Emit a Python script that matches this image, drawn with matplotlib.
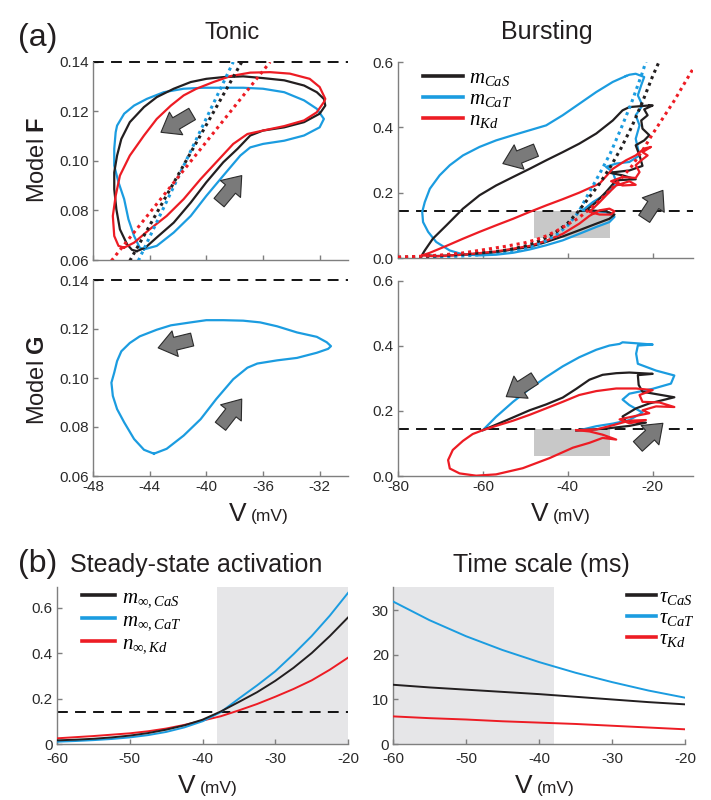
import numpy as np
import matplotlib
matplotlib.use("Agg")
import matplotlib.pyplot as plt
from matplotlib.patches import FancyArrowPatch, Rectangle
from matplotlib.lines import Line2D

# ---------------- data ----------------
# Tonic, model F (phase loops)
tF_V_CaS = [-44.9, -44.3, -43.5, -42.3, -41.1, -40.0, -38.8, -37.8, -36.9, -36.0, -34.5, -33.1, -32.0, -31.6,
            -31.7, -32.2, -33.1, -34.5, -36.0, -37.4, -38.8, -40.0, -41.1, -42.3, -43.5, -44.4, -45.4, -46.0,
            -46.3, -46.5, -46.5, -46.35, -46.1, -45.6, -45.25, -44.9]
tF_y_CaS = [0.0636, 0.0650, 0.0691, 0.0751, 0.0832, 0.0914, 0.0995, 0.1049, 0.1103, 0.1123, 0.1136, 0.1157,
            0.1191, 0.1224, 0.1251, 0.1278, 0.1305, 0.1326, 0.1335, 0.1342, 0.1339, 0.1332, 0.1319, 0.1292,
            0.1258, 0.1218, 0.1157, 0.1089, 0.1022, 0.0954, 0.0886, 0.0805, 0.0724, 0.0664, 0.0641, 0.0636]
tF_V_CaT = [-44.4, -43.5, -42.3, -41.1, -40.0, -38.8, -37.6, -36.9, -36.0, -34.5, -33.1, -32.0, -31.7, -32.2,
            -33.1, -34.5, -36.0, -37.4, -38.8, -40.2, -41.6, -43.0, -44.2, -45.1, -45.8, -46.3, -46.4, -46.5,
            -46.5, -46.2, -45.8, -45.5, -45.1, -44.7, -44.4]
tF_y_CaT = [0.0643, 0.0657, 0.0711, 0.0778, 0.0859, 0.0941, 0.1022, 0.1055, 0.1069, 0.1082, 0.1103, 0.1136,
            0.1170, 0.1211, 0.1245, 0.1278, 0.1292, 0.1296, 0.1296, 0.1296, 0.1292, 0.1278, 0.1251, 0.1224,
            0.1191, 0.1143, 0.1116, 0.1049, 0.0981, 0.0914, 0.0846, 0.0765, 0.0697, 0.0650, 0.0643]
tF_V_Kd = [-45.8, -45.1, -44.0, -42.8, -41.6, -40.4, -39.3, -38.1, -37.1, -36.0, -34.5, -33.1, -32.2, -31.7,
           -31.6, -32.0, -32.7, -34.1, -35.5, -36.9, -38.3, -39.5, -40.7, -41.6, -42.5, -43.5, -44.4, -45.4,
           -46.1, -46.4, -46.6, -46.5, -46.2, -45.8]
tF_y_Kd = [0.0650, 0.0670, 0.0724, 0.0778, 0.0846, 0.0927, 0.0995, 0.1069, 0.1109, 0.1123, 0.1141, 0.1164,
           0.1197, 0.1238, 0.1251, 0.1299, 0.1332, 0.1353, 0.1359, 0.1357, 0.1343, 0.1319, 0.1292, 0.1265,
           0.1224, 0.1170, 0.1103, 0.1022, 0.0941, 0.0859, 0.0778, 0.0697, 0.0657, 0.0650]
# Tonic F dotted (steady-state lines, nearly straight in this range)
tF_dot_y = [0.0597, 0.140]
tF_dot_V_CaS = [-45.4, -37.5]
tF_dot_V_CaT = [-44.8, -38.1]
tF_dot_V_Kd = [-46.7, -35.5]

# Tonic, model G
tG_V_CaT = [-43.7, -42.8, -41.6, -40.4, -39.3, -38.1, -37.1, -36.4, -35.0, -33.6, -32.2, -31.4, -31.2, -31.5,
            -32.2, -33.6, -35.0, -36.2, -37.4, -38.8, -40.0, -41.1, -42.5, -43.5, -44.7, -45.4, -46.0, -46.3,
            -46.5, -46.7, -46.6, -46.3, -45.8, -45.1, -44.4, -43.7]
tG_y_CaT = [0.0691, 0.0711, 0.0765, 0.0832, 0.0914, 0.0995, 0.1042, 0.1059, 0.1072, 0.1082, 0.1103, 0.1119,
            0.1130, 0.1146, 0.1168, 0.1186, 0.1211, 0.1227, 0.1234, 0.1236, 0.1236, 0.1227, 0.1215, 0.1197,
            0.1170, 0.1143, 0.1109, 0.1069, 0.1022, 0.0981, 0.0927, 0.0873, 0.0819, 0.0751, 0.0707, 0.0691]

# Bursting, model F
bF_V_CaT = [-26.3, -29.4, -33.3, -37.3, -41.2, -45.1, -49.0, -52.9, -56.9, -60.8, -64.7, -67.8, -70.2, -72.5,
            -73.7, -74.3, -74.1, -72.9, -71.0, -67.8, -64.7, -60.8, -56.9, -52.9, -49.0, -45.1, -41.2, -37.3,
            -33.3, -30.2, -29.0, -31.0, -36.5, -34.1, -30.2, -28.6, -29.4, -31.0, -28.6, -25.5, -23.1, -24.0,
            -23.1, -24.0, -22.4, -23.5, -22.7, -22.0, -24.0, -25.5, -26.3]
bF_y_CaT = [0.557, 0.539, 0.508, 0.472, 0.437, 0.406, 0.391, 0.376, 0.360, 0.340, 0.314, 0.284, 0.253, 0.212,
            0.171, 0.141, 0.110, 0.080, 0.049, 0.023, 0.011, 0.008, 0.010, 0.016, 0.026, 0.039, 0.054, 0.074,
            0.095, 0.110, 0.126, 0.141, 0.146, 0.171, 0.202, 0.233, 0.263, 0.279, 0.289, 0.294, 0.314, 0.365,
            0.406, 0.437, 0.467, 0.498, 0.529, 0.554, 0.564, 0.561, 0.557]
bF_V_CaS = [-20.8, -25.5, -27.1, -29.4, -33.3, -37.3, -41.2, -45.1, -49.0, -52.9, -56.9, -60.8, -64.7, -68.6,
            -71.8, -73.7, -74.3, -71.0, -64.7, -56.9, -49.0, -45.1, -41.2, -37.3, -33.3, -30.2, -29.0, -31.0,
            -35.7, -33.3, -31.0, -28.6, -24.0, -27.1, -30.2, -25.5, -22.4, -23.1, -24.0, -22.0, -20.8, -22.4,
            -22.7, -21.2, -22.0, -20.0, -20.8]
bF_y_CaS = [0.467, 0.462, 0.452, 0.421, 0.381, 0.350, 0.324, 0.299, 0.273, 0.248, 0.222, 0.192, 0.151, 0.100,
            0.059, 0.023, 0.010, 0.006, 0.010, 0.018, 0.034, 0.049, 0.066, 0.085, 0.105, 0.120, 0.133, 0.143,
            0.146, 0.171, 0.202, 0.238, 0.241, 0.253, 0.261, 0.268, 0.282, 0.314, 0.345, 0.360, 0.376, 0.396,
            0.421, 0.437, 0.455, 0.467, 0.467]
bF_V_Kd = [-74.3, -71.0, -64.7, -56.9, -49.0, -45.1, -41.2, -37.3, -34.9, -32.5, -30.2, -29.0, -29.8, -32.5,
           -34.9, -32.5, -30.2, -28.6, -25.5, -24.0, -27.1, -29.8, -27.1, -24.0, -23.1, -24.0, -22.7, -21.2,
           -22.4, -20.4, -22.0, -24.0, -26.3, -29.4, -32.5, -37.3, -41.2, -45.1, -49.0, -52.9, -56.9, -60.8,
           -64.7, -68.6, -72.5, -74.3]
bF_y_Kd = [0.008, 0.005, 0.010, 0.020, 0.037, 0.053, 0.074, 0.105, 0.129, 0.146, 0.151, 0.143, 0.133, 0.133,
           0.141, 0.171, 0.202, 0.222, 0.235, 0.224, 0.222, 0.235, 0.248, 0.245, 0.263, 0.284, 0.299, 0.314,
           0.324, 0.340, 0.335, 0.314, 0.299, 0.273, 0.228, 0.200, 0.180, 0.161, 0.141, 0.120, 0.100, 0.080,
           0.059, 0.037, 0.016, 0.008]

# Bursting, model G
bG_V_CaT = [-60.0, -56.9, -52.9, -49.0, -45.1, -41.2, -37.3, -33.3, -30.2, -27.8, -27.1, -23.9, -20.0, -23.5,
            -23.9, -23.5, -19.2, -14.9, -15.7, -20.0, -25.5, -27.1, -25.5, -22.4, -25.5, -29.4, -33.3, -36.5,
            -38.0]
bG_y_CaT = [0.141, 0.182, 0.228, 0.268, 0.304, 0.337, 0.365, 0.388, 0.401, 0.406, 0.411, 0.408, 0.404, 0.401,
            0.376, 0.345, 0.324, 0.309, 0.284, 0.268, 0.253, 0.235, 0.218, 0.195, 0.172, 0.161, 0.153, 0.143,
            0.140]
bG_V_CaS = [-60.0, -54.5, -49.0, -45.1, -41.2, -38.0, -34.9, -31.8, -28.6, -25.5, -20.0, -23.5, -23.3, -22.4,
            -14.9, -20.8, -23.9, -27.1, -26.3, -21.6, -25.5, -30.2, -34.1, -38.0]
bG_y_CaS = [0.141, 0.171, 0.202, 0.220, 0.241, 0.268, 0.296, 0.311, 0.316, 0.318, 0.314, 0.310, 0.280, 0.259,
            0.242, 0.223, 0.208, 0.183, 0.167, 0.164, 0.154, 0.147, 0.143, 0.140]
bG_V_Kd = [-38.0, -33.3, -29.4, -25.5, -21.6, -25.5, -27.8, -23.9, -20.8, -22.4, -19.2, -14.9, -18.4, -22.4,
           -23.1, -20.0, -23.9, -28.6, -33.3, -37.3, -41.2, -45.1, -49.0, -52.9, -56.9, -60.0, -62.4, -64.7,
           -67.1, -68.2, -67.8, -65.5, -61.6, -56.9, -50.6, -44.3, -38.8, -34.9, -31.8, -28.6, -31.8, -34.9,
           -38.0]
bG_y_Kd = [0.141, 0.143, 0.156, 0.170, 0.172, 0.162, 0.174, 0.185, 0.193, 0.202, 0.214, 0.212, 0.226, 0.228,
           0.249, 0.264, 0.269, 0.269, 0.261, 0.249, 0.228, 0.208, 0.188, 0.170, 0.154, 0.141, 0.129, 0.108,
           0.080, 0.049, 0.023, 0.008, 0.001, 0.005, 0.024, 0.055, 0.087, 0.102, 0.117, 0.112, 0.127, 0.137,
           0.141]

# Steady-state activation curves (panel b, and dotted in bursting F)
V_ss = [-80, -75, -70, -65, -60, -57.5, -55, -52.5, -50, -47.5, -45, -42.5, -40, -37.5, -35, -32.5, -30,
        -27.5, -25, -22.5, -20, -17.5, -15, -12.5, -10]
minf_CaS = [0.002, 0.004, 0.007, 0.011, 0.016, 0.019, 0.023, 0.029, 0.037, 0.048, 0.063, 0.082, 0.107, 0.143,
            0.185, 0.228, 0.278, 0.335, 0.400, 0.475, 0.557, 0.630, 0.700, 0.760, 0.820]
minf_CaT = [0.001, 0.002, 0.003, 0.006, 0.010, 0.013, 0.017, 0.022, 0.029, 0.039, 0.053, 0.073, 0.100, 0.140,
            0.200, 0.258, 0.320, 0.395, 0.475, 0.565, 0.665, 0.760, 0.850, 0.930, 1.000]
ninf_Kd = [0.003, 0.005, 0.009, 0.015, 0.025, 0.030, 0.035, 0.041, 0.047, 0.056, 0.068, 0.084, 0.103, 0.122,
           0.148, 0.176, 0.208, 0.242, 0.280, 0.327, 0.380, 0.430, 0.480, 0.535, 0.590]

# Time constants
V_tau = [-60, -55, -50, -45, -40, -35, -30, -25, -20]
tau_CaS = [13.3, 12.7, 12.2, 11.7, 11.2, 10.6, 10.0, 9.4, 8.9]
tau_CaT = [32.0, 27.8, 24.2, 21.1, 18.4, 16.0, 13.9, 12.0, 10.4]
tau_Kd = [6.2, 5.8, 5.5, 5.1, 4.8, 4.5, 4.1, 3.7, 3.3]

threshold = 0.143
tonic_V_range = (-48, -30)
tonic_y_range = (0.06, 0.14)
shade_V = -38

# ---------------- style ----------------
plt.rcParams.update({
    'font.family': ['Liberation Sans', 'DejaVu Sans'],
    'mathtext.fontset': 'custom',
    'mathtext.it': 'Liberation Serif:italic',
    'mathtext.rm': 'Liberation Serif',
    'mathtext.bf': 'Liberation Sans:bold',
    'axes.unicode_minus': False,
})
C_K = '#231f20'
C_B = '#1b9ce0'
C_R = '#ed1c24'
SPINE = '#7f7f7f'
LW = 1.6
TICK = 11

fig = plt.figure(figsize=(7.11, 8.0), dpi=100)
axTF = fig.add_axes([0.1308, 0.675, 0.3586, 0.2475])
axTG = fig.add_axes([0.1308, 0.405, 0.3586, 0.245])
axBF = fig.add_axes([0.5598, 0.6775, 0.4149, 0.245])
axBG = fig.add_axes([0.5598, 0.405, 0.4149, 0.244])
axSS = fig.add_axes([0.0802, 0.07, 0.4093, 0.196])
axTS = fig.add_axes([0.5527, 0.07, 0.4107, 0.196])


def style(ax, size):
    for s in ['top', 'right']:
        ax.spines[s].set_visible(False)
    for s in ['left', 'bottom']:
        ax.spines[s].set_color(SPINE)
        ax.spines[s].set_linewidth(1.0)
    ax.tick_params(direction='in', length=3.5, width=1.0, color=SPINE, labelcolor='#2a2a2a',
                   labelsize=size, pad=3)
    ax.patch.set_alpha(0)


def block_arrow(ax, tail, head):
    ax.add_patch(FancyArrowPatch(tail, head,
                                 arrowstyle='simple,head_length=0.6,head_width=0.9,tail_width=0.45',
                                 mutation_scale=21, fc='#7a7a7a', ec='#2b2b2b', lw=0.8,
                                 shrinkA=0, shrinkB=0, zorder=6))


# ---- Tonic F
ax = axTF
ax.plot(tF_V_CaT, tF_y_CaT, color=C_B, lw=LW, zorder=3)
ax.plot(tF_V_CaS, tF_y_CaS, color=C_K, lw=LW, zorder=3)
ax.plot(tF_V_Kd, tF_y_Kd, color=C_R, lw=LW, zorder=3)
ax.plot(tF_dot_V_CaT, tF_dot_y, color=C_B, lw=2.2, ls=(0, (1, 1.3)), zorder=4)
ax.plot(tF_dot_V_CaS, tF_dot_y, color=C_K, lw=2.2, ls=(0, (1, 1.3)), zorder=4)
ax.plot(tF_dot_V_Kd, tF_dot_y, color=C_R, lw=2.2, ls=(0, (1, 1.3)), zorder=4)
ax.axhline(0.14, color='k', lw=1.3, ls=(0, (6, 4)), clip_on=False, zorder=2)
ax.set_xlim(*tonic_V_range)
ax.set_ylim(*tonic_y_range)
ax.set_xticks([-48, -44, -40, -36, -32])
ax.set_xticklabels([])
ax.set_yticks([0.06, 0.08, 0.10, 0.12, 0.14])
ax.set_yticklabels(['0.06', '0.08', '0.10', '0.12', '0.14'])
style(ax, TICK)
block_arrow(ax, (-41.0, 0.1190), (-43.2, 0.1116))
block_arrow(ax, (-39.1, 0.0832), (-37.5, 0.0941))

# ---- Tonic G
ax = axTG
ax.plot(tG_V_CaT, tG_y_CaT, color=C_B, lw=LW, zorder=3)
ax.axhline(0.14, color='k', lw=1.3, ls=(0, (6, 4)), clip_on=False, zorder=2)
ax.set_xlim(*tonic_V_range)
ax.set_ylim(*tonic_y_range)
ax.set_xticks([-48, -44, -40, -36, -32])
ax.set_yticks([0.06, 0.08, 0.10, 0.12, 0.14])
ax.set_yticklabels(['0.06', '0.08', '0.10', '0.12', '0.14'])
style(ax, TICK)
block_arrow(ax, (-41.0, 0.1157), (-43.4, 0.1123))
block_arrow(ax, (-39.0, 0.0803), (-37.5, 0.0914))

# ---- Bursting F
ax = axBF
ax.add_patch(Rectangle((tonic_V_range[0], tonic_y_range[0]), tonic_V_range[1] - tonic_V_range[0],
                       threshold - tonic_y_range[0], fc='#c8c8c8', ec='none', zorder=1))
ax.plot(bF_V_CaT, bF_y_CaT, color=C_B, lw=LW, zorder=3)
ax.plot(bF_V_CaS, bF_y_CaS, color=C_K, lw=LW, zorder=3)
ax.plot(bF_V_Kd, bF_y_Kd, color=C_R, lw=LW, zorder=3)
ax.plot(V_ss, minf_CaT, color=C_B, lw=2.2, ls=(0, (1, 1.3)), zorder=4)
ax.plot(V_ss, minf_CaS, color=C_K, lw=2.2, ls=(0, (1, 1.3)), zorder=4)
ax.plot(V_ss, ninf_Kd, color=C_R, lw=2.2, ls=(0, (1, 1.3)), zorder=4)
ax.axhline(threshold, color='k', lw=1.3, ls=(0, (6, 4)), zorder=2)
ax.set_xlim(-80, -10.5)
ax.set_ylim(0, 0.6)
ax.set_xticks([-80, -60, -40, -20])
ax.set_xticklabels([])
ax.set_yticks([0, 0.2, 0.4, 0.6])
ax.set_yticklabels(['0.0', '0.2', '0.4', '0.6'])
style(ax, TICK)
block_arrow(ax, (-47.5, 0.330), (-55.3, 0.289))
block_arrow(ax, (-22.0, 0.120), (-17.6, 0.207))
hF = [Line2D([], [], color=C_K, lw=2.6), Line2D([], [], color=C_B, lw=2.6), Line2D([], [], color=C_R, lw=2.6)]
ax.legend(hF, [r'$m_{CaS}$', r'$m_{CaT}$', r'$n_{Kd}$'], loc='upper left', bbox_to_anchor=(0.085, 0.97),
          frameon=False, fontsize=15, handlelength=1.9, handletextpad=0.3, labelspacing=0.05, borderpad=0,
          borderaxespad=0)

# ---- Bursting G
ax = axBG
ax.add_patch(Rectangle((tonic_V_range[0], tonic_y_range[0]), tonic_V_range[1] - tonic_V_range[0],
                       threshold - tonic_y_range[0], fc='#c8c8c8', ec='none', zorder=1))
ax.plot(bG_V_CaT, bG_y_CaT, color=C_B, lw=LW, zorder=3)
ax.plot(bG_V_CaS, bG_y_CaS, color=C_K, lw=LW, zorder=3)
ax.plot(bG_V_Kd, bG_y_Kd, color=C_R, lw=LW, zorder=3)
ax.axhline(threshold, color='k', lw=1.3, ls=(0, (6, 4)), zorder=2)
ax.set_xlim(-80, -10.5)
ax.set_ylim(0, 0.6)
ax.set_xticks([-80, -60, -40, -20])
ax.set_yticks([0, 0.2, 0.4, 0.6])
ax.set_yticklabels(['0.0', '0.2', '0.4', '0.6'])
style(ax, TICK)
block_arrow(ax, (-47.8, 0.300), (-54.5, 0.244))
block_arrow(ax, (-23.5, 0.091), (-17.6, 0.162))

# ---- Steady-state activation
ax = axSS
ax.axvspan(shade_V, -20, color='#e6e6e8', lw=0, zorder=0)
ax.plot(V_ss, ninf_Kd, color=C_R, lw=1.4, zorder=3)
ax.plot(V_ss, minf_CaT, color=C_B, lw=1.4, zorder=3)
ax.plot(V_ss, minf_CaS, color=C_K, lw=1.4, zorder=3)
ax.axhline(threshold, color='k', lw=1.3, ls=(0, (6, 4)), zorder=2)
ax.set_xlim(-60, -20)
ax.set_ylim(0, 0.69)
ax.set_xticks([-60, -50, -40, -30, -20])
ax.set_yticks([0, 0.2, 0.4, 0.6])
ax.set_yticklabels(['0', '0.2', '0.4', '0.6'])
style(ax, TICK)
ax.tick_params(axis='x', pad=5.5)
hS = [Line2D([], [], color=C_K, lw=2.6), Line2D([], [], color=C_B, lw=2.6), Line2D([], [], color=C_R, lw=2.6)]
ax.legend(hS, [r'$m_{\infty,CaS}$', r'$m_{\infty,CaT}$', r'$n_{\infty,Kd}$'], loc='upper left',
          bbox_to_anchor=(0.085, 1.0), frameon=False, fontsize=15, handlelength=1.6, handletextpad=0.35,
          labelspacing=0.05, borderpad=0, borderaxespad=0)

# ---- Time scale
ax = axTS
ax.axvspan(-60, shade_V, color='#e6e6e8', lw=0, zorder=0)
ax.plot(V_tau, tau_CaT, color=C_B, lw=1.4, zorder=3)
ax.plot(V_tau, tau_CaS, color=C_K, lw=1.4, zorder=3)
ax.plot(V_tau, tau_Kd, color=C_R, lw=1.4, zorder=3)
ax.set_xlim(-60, -20)
ax.set_ylim(0, 35.2)
ax.set_xticks([-60, -50, -40, -30, -20])
ax.set_yticks([0, 10, 20, 30])
style(ax, TICK)
ax.tick_params(axis='x', pad=5.5)
hT = [Line2D([], [], color=C_K, lw=2.6), Line2D([], [], color=C_B, lw=2.6), Line2D([], [], color=C_R, lw=2.6)]
ax.legend(hT, [r'$\tau_{CaS}$', r'$\tau_{CaT}$', r'$\tau_{Kd}$'], loc='upper left',
          bbox_to_anchor=(0.80, 1.0), frameon=False, fontsize=15, handlelength=1.4, handletextpad=0.15,
          labelspacing=0.05, borderpad=0, borderaxespad=0)

# ---------------- text ----------------
H = 800.0
W = 711.0


def ftxt(x, y, s, **kw):
    fig.text(x / W, 1 - y / H, s, **kw)


ftxt(18, 46, '(a)', fontsize=23, color='#231f20')
ftxt(232, 39, 'Tonic', fontsize=17, ha='center', color='#231f20')
ftxt(547, 39, 'Bursting', fontsize=18, ha='center', color='#231f20')
ftxt(38, 160, r'Model $\mathbf{F}$', fontsize=17, rotation=90, ha='center', va='center', color='#231f20')
ftxt(38, 380, r'Model $\mathbf{G}$', fontsize=17, rotation=90, ha='center', va='center', color='#231f20')
ftxt(247, 521, 'V', fontsize=19, ha='right', color='#231f20')
ftxt(251, 521, '(mV)', fontsize=12.5, ha='left', color='#231f20')
ftxt(549, 521, 'V', fontsize=19, ha='right', color='#231f20')
ftxt(553, 521, '(mV)', fontsize=12.5, ha='left', color='#231f20')
ftxt(18, 572, '(b)', fontsize=23, color='#231f20')
ftxt(70, 572, 'Steady-state activation', fontsize=18, color='#231f20')
ftxt(541, 572, 'Time scale (ms)', fontsize=18, ha='center', color='#231f20')
ftxt(196, 793, 'V', fontsize=19, ha='right', color='#231f20')
ftxt(200, 793, '(mV)', fontsize=12.5, ha='left', color='#231f20')
ftxt(533, 793, 'V', fontsize=19, ha='right', color='#231f20')
ftxt(537, 793, '(mV)', fontsize=12.5, ha='left', color='#231f20')

fig.savefig('out.png', dpi=100)
